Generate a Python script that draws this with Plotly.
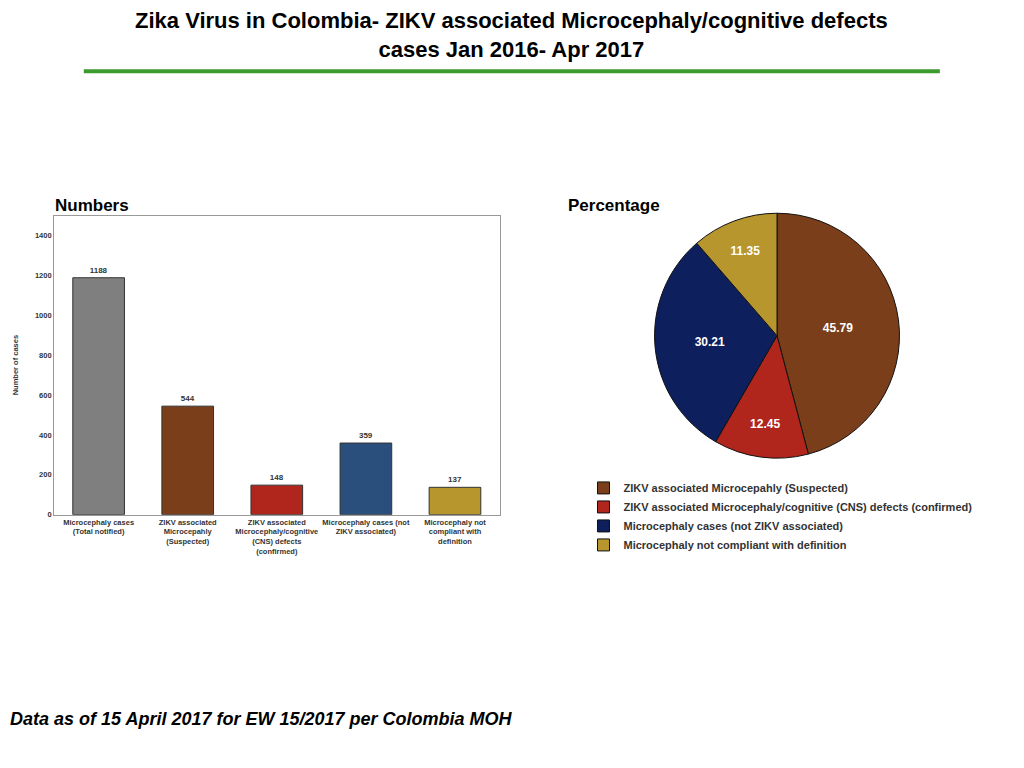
import plotly.graph_objects as go

bar_labels = ["<b>Microcephaly cases<br>(Total notified)</b>", "<b>ZIKV associated<br>Microcepahly<br>(Suspected)</b>",
              "<b>ZIKV associated<br>Microcephaly/cognitive<br>(CNS) defects<br>(confirmed)</b>",
              "<b>Microcephaly cases (not<br>ZIKV associated)</b>", "<b>Microcephaly not<br>compliant with<br>definition</b>"]
bar_values = [1188, 544, 148, 359, 137]
bar_colors = ["#7f7f7f", "#7a3f1a", "#b0261d", "#2b4f7c", "#b8962e"]

pie_labels = ["<b>ZIKV associated Microcepahly (Suspected)</b>",
              "<b>ZIKV associated Microcephaly/cognitive (CNS) defects (confirmed)</b>",
              "<b>Microcephaly cases (not ZIKV associated)</b>",
              "<b>Microcephaly not compliant with definition</b>"]
pie_values = [45.79, 12.45, 30.21, 11.35]
pie_colors = ["#7a3f1a", "#b0261d", "#0d1f5c", "#b8962e"]

font = "Liberation Sans"
dx, dy = -0.008, 0.008
fig = go.Figure()
fig.add_trace(go.Bar(
    x=bar_labels, y=bar_values, marker=dict(color=bar_colors, line=dict(color="#333", width=1)),
    width=0.58, text=[f"<b>{v}</b>" for v in bar_values], textposition="outside", showlegend=False,
    textfont=dict(size=8, color="#333", family=font), cliponaxis=False))
fig.add_trace(go.Pie(
    labels=pie_labels, values=pie_values, sort=False, direction="clockwise", rotation=0,
    marker=dict(colors=pie_colors, line=dict(color="#111", width=1)),
    texttemplate="<b>%{value:.2f}</b>", textposition="inside",
    insidetextfont=dict(color="white", size=12, family=font), insidetextorientation="horizontal",
    domain=dict(x=[0.636 + dx, 0.882 + dx], y=[0.402 + dy, 0.723 + dy])))

fig.update_layout(
    width=1024, height=768, margin=dict(l=0, r=0, t=0, b=0),
    paper_bgcolor="white", plot_bgcolor="white",
    font=dict(family=font, color="#333"),
    xaxis=dict(domain=[0.053 + dx, 0.488 + dx], showline=True, linecolor="#999", mirror=True,
               tickfont=dict(size=7.5, family=font, color="#333"), ticks=""),
    yaxis=dict(domain=[0.328 + dy, 0.72 + dy], range=[0, 1500], dtick=200, showgrid=False,
               showline=True, linecolor="#999", mirror=True, tickfont=dict(size=7.5, color="#333"),
               tickprefix="<b>", ticksuffix="</b>",
               title=dict(text="<b>Number of cases</b>", font=dict(size=7.5, color="#333")), zeroline=False),
    legend=dict(x=0.562, y=0.382 + dy, xanchor="left", yanchor="top",
                font=dict(size=11, family=font, color="#333"), itemwidth=30, tracegroupgap=0),
    annotations=[
        dict(text="<b>Zika Virus in Colombia- ZIKV associated Microcephaly/cognitive defects<br>cases Jan 2016- Apr 2017</b>",
             x=0.5 + dx, y=0.995 + dy, xref="paper", yref="paper", xanchor="center", yanchor="top", showarrow=False,
             font=dict(size=22, color="black", family=font)),
        dict(text="<b>Numbers</b>", x=0.09 + dx, y=0.748 + dy, xref="paper", yref="paper", xanchor="center",
             showarrow=False, font=dict(size=17, color="black")),
        dict(text="<b>Percentage</b>", x=0.6 + dx, y=0.748 + dy, xref="paper", yref="paper", xanchor="center",
             showarrow=False, font=dict(size=17, color="black")),
        dict(text="<b><i>Data as of 15 April 2017 for EW 15/2017 per Colombia MOH</i></b>",
             x=0.0, y=0.045 + dy, xref="paper", yref="paper", xanchor="left", showarrow=False,
             font=dict(size=18, color="black")),
    ],
    shapes=[dict(type="line", xref="paper", yref="paper", x0=0.082 + dx, x1=0.918 + dx, y0=0.909 + dy, y1=0.909 + dy,
                 line=dict(color="#3c9a2e", width=4))],
)
fig.write_html("out.html")
